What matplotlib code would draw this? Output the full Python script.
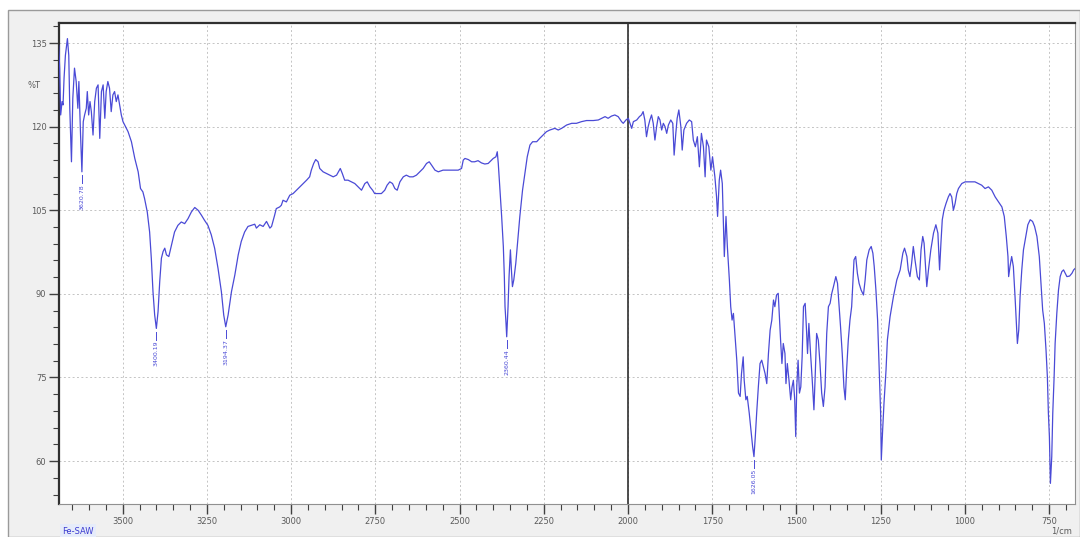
import matplotlib
matplotlib.use('Agg')
import matplotlib.pyplot as plt
from matplotlib.patches import Rectangle
from matplotlib.ticker import MultipleLocator, FixedLocator
import numpy as np

# FTIR spectrum of Fe-SAW, wavenumber (1/cm) vs transmittance (%T)
wavenumber = [
    3690, 3687, 3684, 3680, 3677, 3674, 3670, 3664, 3660, 3657, 3652, 3648, 3643, 3638,
    3633, 3630, 3625, 3621, 3617, 3613, 3608, 3605, 3601, 3597, 3593, 3588, 3583, 3578,
    3573, 3568, 3563, 3558, 3553, 3549, 3544, 3539, 3534, 3529, 3524, 3519, 3514, 3509,
    3504, 3499, 3494, 3484, 3474, 3464, 3454, 3447, 3440, 3435, 3427, 3420, 3415, 3410,
    3405, 3400, 3395, 3390, 3385, 3380, 3375, 3370, 3363, 3355, 3346, 3336, 3326, 3316,
    3306, 3296, 3286, 3276, 3266, 3257, 3247, 3237, 3227, 3217, 3207, 3200, 3194, 3187,
    3177, 3167, 3157, 3148, 3138, 3128, 3118, 3108,
    3103, 3093, 3083, 3073, 3063, 3058, 3049, 3044, 3034, 3029, 3024, 3014, 3009, 3004,
    2994, 2984, 2974, 2964, 2954, 2945, 2940, 2933, 2927, 2920, 2915, 2905, 2895, 2885,
    2875, 2865, 2857, 2854, 2848, 2841, 2831, 2821, 2811, 2801, 2791, 2781, 2774, 2766,
    2758, 2752, 2742, 2732, 2722, 2715, 2707, 2699, 2692, 2685, 2677, 2667, 2658, 2648,
    2638, 2628, 2618, 2608, 2598, 2590, 2583, 2573, 2563, 2549, 2529, 2514, 2504, 2494,
    2489, 2484, 2474, 2464, 2455, 2445, 2435, 2425, 2415,
    2400, 2392, 2388, 2385, 2380, 2375, 2370, 2367, 2365, 2362, 2360, 2356, 2353, 2349,
    2346, 2343, 2339, 2333, 2326, 2321, 2313, 2306, 2299, 2291, 2283, 2271, 2262, 2252,
    2242, 2232, 2217, 2207, 2197, 2182, 2167, 2153, 2138, 2123, 2103, 2088, 2078, 2068,
    2059, 2049, 2039, 2029, 2019, 2014, 2006, 1999, 1994, 1989, 1984, 1974, 1966, 1960,
    1955, 1950, 1945, 1940, 1935, 1930, 1925, 1920, 1915, 1910, 1905, 1900, 1895, 1890,
    1885, 1880, 1873, 1867, 1863, 1858, 1854, 1849, 1843, 1839, 1834, 1826, 1818, 1811,
    1806, 1800, 1794, 1788, 1782, 1776, 1771, 1767, 1760, 1754, 1749, 1742, 1737, 1734,
    1729, 1725, 1720, 1714, 1709,
    1705, 1699, 1695, 1691, 1687, 1682, 1677, 1672, 1667, 1663, 1658, 1655, 1650, 1646,
    1640, 1635, 1630, 1626, 1622, 1618, 1613, 1608, 1603, 1598, 1593, 1588, 1583, 1578,
    1573, 1568, 1564, 1559, 1554, 1551, 1547, 1543, 1539, 1534, 1531, 1527, 1522, 1517,
    1513, 1509, 1505, 1502, 1499, 1495, 1491, 1487, 1483, 1479, 1474, 1470, 1467, 1463,
    1458, 1453, 1448, 1444, 1440, 1435, 1430, 1425, 1420, 1415, 1410, 1405, 1400, 1395,
    1390, 1383, 1378, 1373, 1369, 1364, 1359, 1355, 1351, 1346, 1341, 1336, 1333, 1329,
    1324, 1319, 1314, 1308, 1301, 1296, 1291, 1284, 1278, 1273, 1269, 1264, 1259, 1254,
    1250, 1248,
    1244, 1240, 1234, 1230, 1222, 1212, 1202, 1192, 1184, 1179, 1172, 1168, 1163, 1158,
    1153, 1148, 1141, 1135, 1130, 1125, 1121, 1116, 1113, 1108, 1101, 1093, 1086, 1080,
    1075, 1071, 1067, 1062, 1056, 1049, 1044, 1039, 1034, 1029, 1024, 1019, 1009, 999,
    984, 970, 960, 950, 940, 930, 920, 910, 900, 890, 883, 877, 872, 870, 866, 861, 856,
    851, 848, 844, 840, 836, 831, 826, 819, 813, 806, 799, 793, 786, 779, 774, 769, 764,
    759, 755, 752, 749, 746, 742, 739, 735, 732, 727, 722, 717, 712, 707, 702, 697, 689,
    682, 677, 672,
]
transmittance = [
    134.6, 130.5, 122.1, 124.5, 123.9, 128.7, 132.8, 135.8, 132.8, 123.3, 113.7, 125.1, 130.5, 128.1,
    123.3, 128.1, 118.5, 111.9, 120.9, 122.1, 123.3, 126.3, 122.1, 124.5, 122.7, 118.5, 124.5, 126.9,
    127.5, 117.9, 126.3, 127.5, 121.5, 126.3, 128.1, 126.9, 122.7, 125.7, 126.3, 124.5, 125.7, 123.9,
    122.1, 120.9, 120.3, 119.1, 117.3, 114.3, 111.9, 108.9, 108.3, 107.1, 104.7, 101.1, 96.4, 90.4,
    86.2, 83.8, 86.8, 92.2, 96.4, 97.6, 98.2, 97.0, 96.7, 98.8, 101.1, 102.3, 102.9, 102.6,
    103.5, 104.7, 105.5, 105.0, 104.1, 103.2, 102.3, 100.6, 98.2, 94.6, 90.4, 86.2, 84.1, 86.2,
    90.4, 93.4, 97.0, 99.4, 101.1, 102.1, 102.3, 102.5,
    101.8, 102.4, 102.1, 103.0, 101.8, 102.1, 104.1, 105.3, 105.6, 105.9, 106.8, 106.5, 107.1, 107.7,
    108.0, 108.6, 109.2, 109.8, 110.4, 111.0, 112.2, 113.4, 114.1, 113.7, 112.5, 111.9, 111.6, 111.3,
    111.0, 111.3, 112.2, 112.5, 111.6, 110.4, 110.4, 110.1, 109.8, 109.2, 108.6, 109.8, 110.1, 109.2,
    108.6, 108.0, 108.0, 108.0, 108.6, 109.5, 110.1, 109.8, 108.9, 108.6, 110.1, 111.0, 111.3, 111.0,
    111.0, 111.3, 111.9, 112.5, 113.4, 113.7, 113.1, 112.2, 111.9, 112.2, 112.2, 112.2, 112.2, 112.5,
    114.0, 114.3, 114.1, 113.7, 113.7, 113.9, 113.5, 113.3, 113.4,
    114.3, 114.6, 115.5, 113.4, 108.6, 103.9, 98.5, 93.1, 87.7, 84.7, 82.3, 87.7, 93.1, 97.9,
    94.3, 91.3, 92.5, 95.5, 100.3, 103.9, 108.6, 111.6, 114.6, 116.7, 117.3, 117.3, 117.9, 118.5,
    119.1, 119.4, 119.7, 119.4, 119.7, 120.3, 120.6, 120.6, 120.9, 121.1, 121.1, 121.2, 121.5, 121.8,
    121.5, 121.9, 122.1, 121.8, 120.9, 120.6, 121.2, 121.5, 120.6, 119.7, 120.9, 121.2, 121.8, 122.1,
    122.7, 121.2, 118.2, 120.0, 121.2, 122.1, 120.6, 117.6, 120.0, 121.8, 121.2, 119.4, 120.6, 120.0,
    118.8, 120.3, 121.2, 120.6, 114.9, 118.8, 121.5, 123.0, 120.0, 115.8, 119.4, 120.6, 121.2, 120.9,
    117.6, 116.4, 118.2, 112.8, 118.8, 116.4, 111.0, 117.6, 116.4, 112.2, 114.6, 111.0, 107.4, 103.9,
    110.4, 112.2, 109.8, 96.7, 103.9,
    98.5, 92.5, 87.7, 85.3, 86.5, 82.3, 78.1, 72.2, 71.6, 75.7, 78.7, 74.5, 71.0, 71.6,
    68.6, 65.6, 62.6, 60.8, 64.4, 68.6, 73.3, 77.5, 78.1, 76.9, 75.7, 73.9, 79.3, 83.5,
    85.3, 88.9, 87.7, 89.8, 90.1, 86.5, 81.7, 77.5, 81.1, 79.3, 73.9, 77.5, 74.5, 71.0,
    73.3, 74.5, 71.0, 64.4, 73.3, 78.1, 72.2, 73.3, 78.7, 87.7, 88.3, 83.5, 79.3, 84.7,
    79.3, 74.5, 69.2, 75.7, 82.9, 81.7, 77.5, 72.2, 69.8, 73.3, 82.9, 87.7, 88.3, 90.1,
    91.3, 93.1, 91.9, 87.7, 84.1, 79.3, 73.3, 71.0, 76.3, 81.7, 85.3, 87.7, 91.3, 96.1,
    96.7, 93.7, 91.9, 90.7, 89.8, 92.5, 96.1, 97.9, 98.5, 97.3, 94.9, 90.7, 85.3, 75.7,
    68.6, 60.2,
    65.6, 70.4, 76.3, 81.7, 85.9, 89.5, 92.5, 94.3, 97.3, 98.2, 96.7, 94.3, 93.1, 95.5,
    98.5, 96.1, 93.1, 92.5, 97.9, 100.3, 99.1, 94.3, 91.3, 94.3, 97.9, 100.9, 102.4, 100.9,
    94.3, 99.1, 103.3, 105.0, 106.2, 107.4, 108.0, 107.4, 105.0, 106.2, 108.0, 108.9, 109.8, 110.1,
    110.1, 110.1, 109.8, 109.5, 108.9, 109.2, 108.6, 107.4, 106.5, 105.6, 103.9, 100.3, 96.7, 93.1,
    94.9, 96.7, 94.9,
    89.5, 85.9, 81.1, 83.5, 89.5, 94.3, 97.9, 100.3, 102.4, 103.3, 103.0, 102.1, 100.3, 96.7, 91.9,
    87.1, 84.7, 79.9, 75.1, 68.6, 64.4, 56.0, 60.8, 68.6, 75.1, 81.1, 86.5, 90.7, 93.1, 94.0,
    94.3, 93.7, 93.1, 93.2, 93.7, 94.3, 94.6,
]

# labelled bands
peak_wn = [3620.78, 3400.19, 3194.37, 2360.44, 1626.05]
peak_t = [111.9, 83.8, 84.1, 82.3, 60.8]

x_major = list(range(750, 3501, 250))
y_major = [60, 75, 90, 105, 120, 135]

line_color = '#4a4ad6'

fig = plt.figure(figsize=(10.8, 5.37), dpi=100)
fig.patch.set_facecolor('white')
fig.patches.append(Rectangle((8 / 1080, 0), 1 - 8 / 1080, 1 - 10 / 537,
                             transform=fig.transFigure, facecolor='#f0f0f0',
                             edgecolor='#9a9a9a', linewidth=1.0, zorder=-1))

ax = fig.add_axes([59 / 1080, 1 - 504 / 537, (1075 - 59) / 1080, (504 - 23) / 537])
ax.set_facecolor('white')

ax.plot(wavenumber, transmittance, color=line_color, lw=0.9, zorder=3)

for wn, t in zip(peak_wn, peak_t):
    ax.plot([wn, wn], [t - 0.6, t - 2.0], color=line_color, lw=0.7, zorder=3)
    ax.text(wn, t - 2.2, f'{wn:.2f}', rotation=90, ha='center', va='top',
            fontsize=4.5, color=line_color, zorder=4)

ax.set_xlim(3689, 673)
ax.set_ylim(52.3, 138.6)

ax.xaxis.set_major_locator(FixedLocator(x_major))
ax.xaxis.set_minor_locator(MultipleLocator(50))
ax.yaxis.set_major_locator(FixedLocator(y_major))
ax.yaxis.set_minor_locator(MultipleLocator(3))

ax.grid(True, which='major', color='#c4c4c4', linestyle=(0, (2, 2.5)), lw=0.7, zorder=1)
ax.axvline(2000, color='#303030', lw=1.2, zorder=2)

ax.tick_params(which='major', direction='out', length=7, width=1.0, color='#404040',
               labelsize=6, labelcolor='#5a5a5a', pad=2)
ax.tick_params(which='minor', direction='out', length=4, width=0.8, color='#404040')

for side in ['left', 'top']:
    ax.spines[side].set_color('#303030')
    ax.spines[side].set_linewidth(1.6)
for side in ['right', 'bottom']:
    ax.spines[side].set_color('#909090')
    ax.spines[side].set_linewidth(0.8)

fig.text(28 / 1080, 1 - 86 / 537, '%T', fontsize=6, color='#5a5a5a', va='center')
fig.text(62 / 1080, 1 - 531 / 537, 'Fe-SAW', fontsize=6, color='#3a3ad0', va='center',
         bbox=dict(facecolor='#e6ecfa', edgecolor='none', pad=1.5))
fig.text(1072 / 1080, 1 - 531 / 537, '1/cm', fontsize=6, color='#5a5a5a',
         ha='right', va='center')

fig.savefig('out.png', dpi=100, facecolor=fig.get_facecolor())
